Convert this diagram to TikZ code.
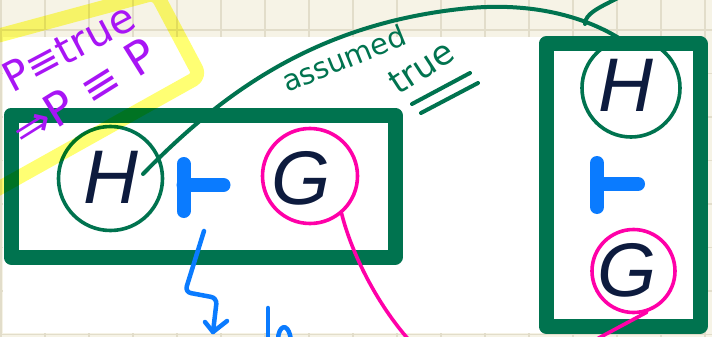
\documentclass[tikz,border=0pt]{standalone}
\usepackage{fontspec}
\newfontfamily\letterfont{Liberation Sans}
\newfontfamily\notefont{DejaVu Sans}
\usetikzlibrary{
  arrows.meta,   % 箭头
  calc           % 坐标计算
}
\definecolor{paper}{HTML}{F6F3E6}
\definecolor{gridgray}{HTML}{E2DDCA}
\definecolor{inkgreen}{HTML}{00734F}
\definecolor{inkblue}{HTML}{0A7BFF}
\definecolor{inkpink}{HTML}{FF00A8}
\definecolor{inkpurple}{HTML}{A815F5}
\definecolor{inknavy}{HTML}{0D1B3E}
\definecolor{marker}{HTML}{FFFF00}
\tikzset{
  grid line/.style={
    draw=gridgray,
    line width=1.5pt
  },
  frame box/.style={
    draw=inkgreen,
    line width=15pt,
    line join=round
  },
  hyp circle/.style={
    circle,
    draw=inkgreen,
    line width=3.6pt,
    inner sep=0pt
  },
  goal circle/.style={
    circle,
    draw=inkpink,
    line width=3.6pt,
    inner sep=0pt
  },
  big letter/.style={
    inner sep=0pt,
    text=inknavy,
    font=\letterfont\itshape\fontsize{76}{76}\selectfont
  },
  turnstile/.style={
    draw=inkblue,
    line width=14pt,
    line cap=round
  },
  pen/.style={
    line width=4pt,
    line cap=round,
    line join=round
  },
  note text/.style={
    inner sep=0pt,
    anchor=base west
  }
}

\begin{document}
\begin{tikzpicture}[x=1pt, y=-1pt, line join=round, line cap=round]
  % 以像素为单位：712 x 337
  \clip (0,0) rectangle (712,337);

  % ===================================
  % 背景：米色方格纸 + 白色页面
  % ===================================
  \fill[paper] (0,0) rectangle (712,337);
  \foreach \i in {0,...,16} {
    \draw[grid line] (\i*44+1, 0) -- (\i*44+1, 337);
  }
  \foreach \j in {0,...,7} {
    \draw[grid line] (0, 30+\j*43.5) -- (712, 30+\j*43.5);
  }
  \fill[white] (3,37) rectangle (693,333);

  % ===================================
  % 两个绿色粗框
  % ===================================
  \draw[frame box] (11,115) rectangle (395,257);
  \draw[frame box] (546,44) rectangle (700,326);

  % ===================================
  % 左框：H ⊢ G
  % ===================================
  \node[hyp circle, minimum size=104pt] (lh) at (110.5,178.5) {};
  \node[big letter] (lhl) at (111,177) {H};

  \coordinate (lts) at (183.5,164);
  \draw[turnstile] (lts) -- ++(0,47);
  \draw[turnstile] ($(lts)+(0,21)$) -- ++(40,0);

  \node[goal circle, minimum size=95pt] (lg) at (310,176) {};
  \node[big letter] (lgl) at (301,178) {G};

  % ===================================
  % 右框：H ⊢ G（竖排）
  % ===================================
  \node[hyp circle, minimum size=98pt] (rh) at (631,88) {};
  \node[big letter] (rhl) at (626,85) {H};

  \coordinate (rts) at (597,163);
  \draw[turnstile] (rts) -- ++(0,44);
  \draw[turnstile] ($(rts)+(0,21)$) -- ++(41,0);

  \node[goal circle, minimum width=83pt, minimum height=79pt] (rg) at (633.5,271) {};
  \node[big letter] (rgl) at (627,270) {G};

  % ===================================
  % 连线与批注
  % ===================================
  % 绿色弧线：左 H → 右 H
  \coordinate (hstart) at (143,174);
  \draw[pen, draw=inkgreen] (hstart) .. controls (225,90) and (320,22) .. (470,8)
    .. controls (540,2) and (590,20) .. (rh.103);
  \draw[pen, draw=inkgreen] (585,24) .. controls (585,14) and (598,8) .. (618,-2);

  \node[note text, rotate=22, text=inkgreen,
        font=\notefont\fontsize{29}{29}\selectfont] (assumed) at (287,93) {assumed};
  \node[note text, rotate=33, text=inkgreen,
        font=\notefont\fontsize{34}{34}\selectfont] (truetag) at (398,96) {true};
  \draw[pen, draw=inkgreen] (412,104) -- (470,73);
  \draw[pen, draw=inkgreen] (421,113) -- (478,83);

  % 粉色线：G 向下引出
  \coordinate (lgend) at (409,340);
  \coordinate (rgend) at (595,340);
  \draw[pen, draw=inkpink, line width=3.6pt] (lg.-50) .. controls (352,255) and (378,305) .. (lgend);
  \draw[pen, draw=inkpink, line width=3.6pt] (rg.-72) -- (rgend);

  % 蓝色折线箭头
  \coordinate (bstart) at (204,231);
  \coordinate (btip) at (213,332);
  \draw[pen, draw=inkblue, line width=4.5pt, rounded corners=6pt]
    (bstart) -- (185,292) -- (217,298) -- (btip);
  \draw[pen, draw=inkblue, line width=4.5pt] (205,322) -- (btip) -- (227,321);
  % 底部被截断的字迹
  \draw[pen, draw=inkblue, line width=4.5pt] (268,308) -- (268,340);
  \draw[pen, draw=inkblue, line width=4.5pt] (278,340) .. controls (278,326) and (288,320) .. (291,340);

  % 紫色：P ≡ true，⇒ P ≡ P
  \node[note text, rotate=28, text=inkpurple,
        font=\notefont\fontsize{41}{41}\selectfont] (ptrue) at (12,94) {P≡true};
  \node[note text, rotate=32, text=inkpurple,
        font=\notefont\fontsize{46}{46}\selectfont] (pimp) at (24,150) {⇒P ≡ P};

  % ===================================
  % 黄色荧光笔框（正片叠底）
  % ===================================
  \begin{scope}[blend mode=multiply]
    \draw[draw=marker, opacity=0.55, line width=14pt, rounded corners=8pt]
      (-40,46) -- (156,-7) -- (200,76) -- (-40,210) -- cycle;
  \end{scope}
\end{tikzpicture}
\end{document}
